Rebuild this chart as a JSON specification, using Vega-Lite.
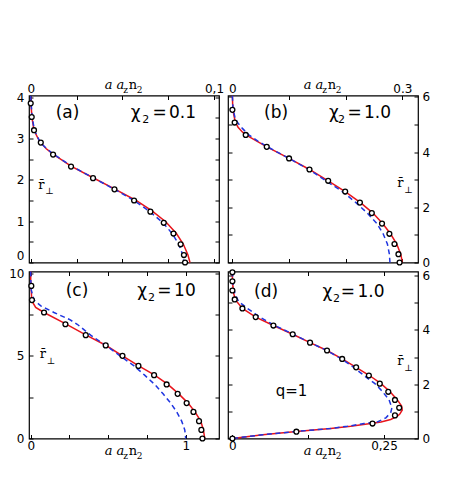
{
"$schema":"https://vega.github.io/schema/vega-lite/v6.json",
"background":"white",
"padding":{"left":8,"top":78.5,"right":5,"bottom":5},
"columns":2,"spacing":9,"bounds":"flush",
"config":{"view":{"stroke":"black","strokeWidth":1.2},
"axis":{"grid":false,"domain":false,"tickSize":-4,"tickColor":"black","tickWidth":1,"labelFont":"DejaVu Sans","labelFontSize":12,"labelColor":"black","labelFlush":false,"labelOverlap":false}},
"datasets":{
"c":[
{"p":"a","s":"red","i":0,"x":0,"y":4.03},{"p":"a","s":"red","i":1,"x":0.0002,"y":3.8},{"p":"a","s":"red","i":2,"x":0.0007,"y":3.5},{"p":"a","s":"red","i":3,"x":0.0018,"y":3.2},{"p":"a","s":"red","i":4,"x":0.004,"y":3.0},{"p":"a","s":"red","i":5,"x":0.0055,"y":2.9},{"p":"a","s":"red","i":6,"x":0.0085,"y":2.75},{"p":"a","s":"red","i":7,"x":0.0122,"y":2.62},{"p":"a","s":"red","i":8,"x":0.022,"y":2.33},{"p":"a","s":"red","i":9,"x":0.034,"y":2.05},{"p":"a","s":"red","i":10,"x":0.0457,"y":1.78},{"p":"a","s":"red","i":11,"x":0.0575,"y":1.5},{"p":"a","s":"red","i":12,"x":0.0662,"y":1.25},{"p":"a","s":"red","i":13,"x":0.0738,"y":0.98},{"p":"a","s":"red","i":14,"x":0.0795,"y":0.7},{"p":"a","s":"red","i":15,"x":0.0833,"y":0.44},{"p":"a","s":"red","i":16,"x":0.0858,"y":0.18},{"p":"a","s":"red","i":17,"x":0.0869,"y":0},
{"p":"a","s":"blue","i":0,"x":0,"y":4.03},{"p":"a","s":"blue","i":1,"x":0.0003,"y":3.8},{"p":"a","s":"blue","i":2,"x":0.0009,"y":3.5},{"p":"a","s":"blue","i":3,"x":0.002,"y":3.2},{"p":"a","s":"blue","i":4,"x":0.005,"y":2.92},{"p":"a","s":"blue","i":5,"x":0.0085,"y":2.76},{"p":"a","s":"blue","i":6,"x":0.0122,"y":2.63},{"p":"a","s":"blue","i":7,"x":0.022,"y":2.34},{"p":"a","s":"blue","i":8,"x":0.034,"y":2.05},{"p":"a","s":"blue","i":9,"x":0.0457,"y":1.77},{"p":"a","s":"blue","i":10,"x":0.0564,"y":1.5},{"p":"a","s":"blue","i":11,"x":0.065,"y":1.23},{"p":"a","s":"blue","i":12,"x":0.0722,"y":0.96},{"p":"a","s":"blue","i":13,"x":0.0772,"y":0.7},{"p":"a","s":"blue","i":14,"x":0.0808,"y":0.44},{"p":"a","s":"blue","i":15,"x":0.083,"y":0.18},{"p":"a","s":"blue","i":16,"x":0.0836,"y":0},
{"p":"a","s":"pt","x":0,"y":3.85},{"p":"a","s":"pt","x":0.00055,"y":3.52},{"p":"a","s":"pt","x":0.0018,"y":3.2},{"p":"a","s":"pt","x":0.0055,"y":2.9},{"p":"a","s":"pt","x":0.0122,"y":2.61},{"p":"a","s":"pt","x":0.022,"y":2.32},{"p":"a","s":"pt","x":0.034,"y":2.04},{"p":"a","s":"pt","x":0.0457,"y":1.77},{"p":"a","s":"pt","x":0.0564,"y":1.5},{"p":"a","s":"pt","x":0.0653,"y":1.23},{"p":"a","s":"pt","x":0.0726,"y":0.96},{"p":"a","s":"pt","x":0.0779,"y":0.7},{"p":"a","s":"pt","x":0.0818,"y":0.44},{"p":"a","s":"pt","x":0.0836,"y":0.18},{"p":"a","s":"pt","x":0.0842,"y":0},
{"p":"b","s":"red","i":0,"x":0,"y":6.04},{"p":"b","s":"red","i":1,"x":0.0005,"y":5.7},{"p":"b","s":"red","i":2,"x":0.002,"y":5.4},{"p":"b","s":"red","i":3,"x":0.005,"y":5.1},{"p":"b","s":"red","i":4,"x":0.01,"y":4.9},{"p":"b","s":"red","i":5,"x":0.018,"y":4.72},{"p":"b","s":"red","i":6,"x":0.03,"y":4.55},{"p":"b","s":"red","i":7,"x":0.06,"y":4.2},{"p":"b","s":"red","i":8,"x":0.1,"y":3.77},{"p":"b","s":"red","i":9,"x":0.136,"y":3.37},{"p":"b","s":"red","i":10,"x":0.169,"y":2.96},{"p":"b","s":"red","i":11,"x":0.199,"y":2.57},{"p":"b","s":"red","i":12,"x":0.226,"y":2.17},{"p":"b","s":"red","i":13,"x":0.248,"y":1.79},{"p":"b","s":"red","i":14,"x":0.265,"y":1.41},{"p":"b","s":"red","i":15,"x":0.279,"y":1.04},{"p":"b","s":"red","i":16,"x":0.29,"y":0.67},{"p":"b","s":"red","i":17,"x":0.297,"y":0.3},{"p":"b","s":"red","i":18,"x":0.3,"y":0},
{"p":"b","s":"blue","i":0,"x":0,"y":6.04},{"p":"b","s":"blue","i":1,"x":0.001,"y":5.6},{"p":"b","s":"blue","i":2,"x":0.004,"y":5.3},{"p":"b","s":"blue","i":3,"x":0.009,"y":5.07},{"p":"b","s":"blue","i":4,"x":0.018,"y":4.85},{"p":"b","s":"blue","i":5,"x":0.029,"y":4.62},{"p":"b","s":"blue","i":6,"x":0.045,"y":4.4},{"p":"b","s":"blue","i":7,"x":0.062,"y":4.19},{"p":"b","s":"blue","i":8,"x":0.1,"y":3.77},{"p":"b","s":"blue","i":9,"x":0.135,"y":3.37},{"p":"b","s":"blue","i":10,"x":0.165,"y":2.96},{"p":"b","s":"blue","i":11,"x":0.194,"y":2.57},{"p":"b","s":"blue","i":12,"x":0.218,"y":2.17},{"p":"b","s":"blue","i":13,"x":0.238,"y":1.79},{"p":"b","s":"blue","i":14,"x":0.255,"y":1.41},{"p":"b","s":"blue","i":15,"x":0.266,"y":1.04},{"p":"b","s":"blue","i":16,"x":0.2735,"y":0.67},{"p":"b","s":"blue","i":17,"x":0.277,"y":0.3},{"p":"b","s":"blue","i":18,"x":0.278,"y":0},
{"p":"b","s":"pt","x":0,"y":5.53},{"p":"b","s":"pt","x":0.004,"y":5.07},{"p":"b","s":"pt","x":0.0235,"y":4.62},{"p":"b","s":"pt","x":0.0606,"y":4.19},{"p":"b","s":"pt","x":0.1,"y":3.77},{"p":"b","s":"pt","x":0.136,"y":3.37},{"p":"b","s":"pt","x":0.169,"y":2.96},{"p":"b","s":"pt","x":0.199,"y":2.57},{"p":"b","s":"pt","x":0.225,"y":2.17},{"p":"b","s":"pt","x":0.246,"y":1.79},{"p":"b","s":"pt","x":0.264,"y":1.41},{"p":"b","s":"pt","x":0.277,"y":1.04},{"p":"b","s":"pt","x":0.286,"y":0.67},{"p":"b","s":"pt","x":0.293,"y":0.3},{"p":"b","s":"pt","x":0.295,"y":0},
{"p":"c","s":"red","i":0,"x":0,"y":10.1},{"p":"c","s":"red","i":1,"x":0,"y":9.6},{"p":"c","s":"red","i":2,"x":0.002,"y":9.2},{"p":"c","s":"red","i":3,"x":0.006,"y":8.5},{"p":"c","s":"red","i":4,"x":0.015,"y":8.2},{"p":"c","s":"red","i":5,"x":0.032,"y":7.93},{"p":"c","s":"red","i":6,"x":0.086,"y":7.62},{"p":"c","s":"red","i":7,"x":0.22,"y":6.96},{"p":"c","s":"red","i":8,"x":0.355,"y":6.27},{"p":"c","s":"red","i":9,"x":0.484,"y":5.64},{"p":"c","s":"red","i":10,"x":0.592,"y":5.0},{"p":"c","s":"red","i":11,"x":0.697,"y":4.39},{"p":"c","s":"red","i":12,"x":0.8,"y":3.83},{"p":"c","s":"red","i":13,"x":0.885,"y":3.27},{"p":"c","s":"red","i":14,"x":0.955,"y":2.7},{"p":"c","s":"red","i":15,"x":1.015,"y":2.14},{"p":"c","s":"red","i":16,"x":1.06,"y":1.61},{"p":"c","s":"red","i":17,"x":1.097,"y":1.05},{"p":"c","s":"red","i":18,"x":1.114,"y":0.52},{"p":"c","s":"red","i":19,"x":1.123,"y":0},
{"p":"c","s":"blue","i":0,"x":0,"y":10.1},{"p":"c","s":"blue","i":1,"x":0.001,"y":9.5},{"p":"c","s":"blue","i":2,"x":0.003,"y":9.0},{"p":"c","s":"blue","i":3,"x":0.021,"y":8.38},{"p":"c","s":"blue","i":4,"x":0.065,"y":8.02},{"p":"c","s":"blue","i":5,"x":0.129,"y":7.72},{"p":"c","s":"blue","i":6,"x":0.15,"y":7.62},{"p":"c","s":"blue","i":7,"x":0.25,"y":7.2},{"p":"c","s":"blue","i":8,"x":0.3,"y":6.91},{"p":"c","s":"blue","i":9,"x":0.387,"y":6.25},{"p":"c","s":"blue","i":10,"x":0.484,"y":5.63},{"p":"c","s":"blue","i":11,"x":0.576,"y":5.0},{"p":"c","s":"blue","i":12,"x":0.667,"y":4.39},{"p":"c","s":"blue","i":13,"x":0.735,"y":3.83},{"p":"c","s":"blue","i":14,"x":0.8,"y":3.27},{"p":"c","s":"blue","i":15,"x":0.854,"y":2.7},{"p":"c","s":"blue","i":16,"x":0.903,"y":2.14},{"p":"c","s":"blue","i":17,"x":0.942,"y":1.61},{"p":"c","s":"blue","i":18,"x":0.974,"y":1.05},{"p":"c","s":"blue","i":19,"x":0.994,"y":0.52},{"p":"c","s":"blue","i":20,"x":1.0,"y":0},
{"p":"c","s":"pt","x":0.004,"y":9.23},{"p":"c","s":"pt","x":0.008,"y":8.37},{"p":"c","s":"pt","x":0.086,"y":7.62},{"p":"c","s":"pt","x":0.224,"y":6.91},{"p":"c","s":"pt","x":0.355,"y":6.25},{"p":"c","s":"pt","x":0.484,"y":5.63},{"p":"c","s":"pt","x":0.592,"y":5.0},{"p":"c","s":"pt","x":0.695,"y":4.39},{"p":"c","s":"pt","x":0.796,"y":3.83},{"p":"c","s":"pt","x":0.877,"y":3.27},{"p":"c","s":"pt","x":0.948,"y":2.7},{"p":"c","s":"pt","x":1.006,"y":2.14},{"p":"c","s":"pt","x":1.05,"y":1.61},{"p":"c","s":"pt","x":1.086,"y":1.05},{"p":"c","s":"pt","x":1.101,"y":0.52},{"p":"c","s":"pt","x":1.108,"y":0},
{"p":"d","s":"red","i":0,"x":0,"y":6.15},{"p":"d","s":"red","i":1,"x":0,"y":5.9},{"p":"d","s":"red","i":2,"x":0.0008,"y":5.6},{"p":"d","s":"red","i":3,"x":0.002,"y":5.35},{"p":"d","s":"red","i":4,"x":0.005,"y":5.1},{"p":"d","s":"red","i":5,"x":0.0165,"y":4.79},{"p":"d","s":"red","i":6,"x":0.0384,"y":4.47},{"p":"d","s":"red","i":7,"x":0.0676,"y":4.16},{"p":"d","s":"red","i":8,"x":0.0994,"y":3.84},{"p":"d","s":"red","i":9,"x":0.128,"y":3.53},{"p":"d","s":"red","i":10,"x":0.156,"y":3.24},{"p":"d","s":"red","i":11,"x":0.181,"y":2.93},{"p":"d","s":"red","i":12,"x":0.204,"y":2.62},{"p":"d","s":"red","i":13,"x":0.226,"y":2.32},{"p":"d","s":"red","i":14,"x":0.245,"y":2.02},{"p":"d","s":"red","i":15,"x":0.26,"y":1.72},{"p":"d","s":"red","i":16,"x":0.272,"y":1.42},{"p":"d","s":"red","i":17,"x":0.279,"y":1.2},{"p":"d","s":"red","i":18,"x":0.28,"y":1.05},{"p":"d","s":"red","i":19,"x":0.276,"y":0.9},{"p":"d","s":"red","i":20,"x":0.272,"y":0.82},{"p":"d","s":"red","i":21,"x":0.261,"y":0.7},{"p":"d","s":"red","i":22,"x":0.245,"y":0.61},{"p":"d","s":"red","i":23,"x":0.231,"y":0.56},{"p":"d","s":"red","i":24,"x":0.195,"y":0.45},{"p":"d","s":"red","i":25,"x":0.162,"y":0.37},{"p":"d","s":"red","i":26,"x":0.1055,"y":0.26},{"p":"d","s":"red","i":27,"x":0.05,"y":0.14},{"p":"d","s":"red","i":28,"x":0,"y":0},
{"p":"d","s":"blue","i":0,"x":0,"y":6.15},{"p":"d","s":"blue","i":1,"x":0.001,"y":5.7},{"p":"d","s":"blue","i":2,"x":0.004,"y":5.35},{"p":"d","s":"blue","i":3,"x":0.01,"y":5.05},{"p":"d","s":"blue","i":4,"x":0.025,"y":4.79},{"p":"d","s":"blue","i":5,"x":0.045,"y":4.47},{"p":"d","s":"blue","i":6,"x":0.07,"y":4.16},{"p":"d","s":"blue","i":7,"x":0.1,"y":3.84},{"p":"d","s":"blue","i":8,"x":0.128,"y":3.53},{"p":"d","s":"blue","i":9,"x":0.156,"y":3.24},{"p":"d","s":"blue","i":10,"x":0.18,"y":2.93},{"p":"d","s":"blue","i":11,"x":0.2,"y":2.62},{"p":"d","s":"blue","i":12,"x":0.217,"y":2.32},{"p":"d","s":"blue","i":13,"x":0.235,"y":2.02},{"p":"d","s":"blue","i":14,"x":0.2445,"y":1.8},{"p":"d","s":"blue","i":15,"x":0.258,"y":1.44},{"p":"d","s":"blue","i":16,"x":0.263,"y":1.13},{"p":"d","s":"blue","i":17,"x":0.261,"y":0.95},{"p":"d","s":"blue","i":18,"x":0.253,"y":0.76},{"p":"d","s":"blue","i":19,"x":0.239,"y":0.61},{"p":"d","s":"blue","i":20,"x":0.217,"y":0.55},{"p":"d","s":"blue","i":21,"x":0.19,"y":0.45},{"p":"d","s":"blue","i":22,"x":0.162,"y":0.37},{"p":"d","s":"blue","i":23,"x":0.1055,"y":0.26},{"p":"d","s":"blue","i":24,"x":0.05,"y":0.14},{"p":"d","s":"blue","i":25,"x":0,"y":0},
{"p":"d","s":"pt","x":0,"y":6.12},{"p":"d","s":"pt","x":0,"y":5.79},{"p":"d","s":"pt","x":0,"y":5.45},{"p":"d","s":"pt","x":0.0038,"y":5.12},{"p":"d","s":"pt","x":0.0165,"y":4.79},{"p":"d","s":"pt","x":0.0384,"y":4.47},{"p":"d","s":"pt","x":0.0676,"y":4.16},{"p":"d","s":"pt","x":0.0994,"y":3.84},{"p":"d","s":"pt","x":0.128,"y":3.53},{"p":"d","s":"pt","x":0.156,"y":3.24},{"p":"d","s":"pt","x":0.181,"y":2.93},{"p":"d","s":"pt","x":0.204,"y":2.62},{"p":"d","s":"pt","x":0.225,"y":2.32},{"p":"d","s":"pt","x":0.243,"y":2.02},{"p":"d","s":"pt","x":0.257,"y":1.72},{"p":"d","s":"pt","x":0.268,"y":1.42},{"p":"d","s":"pt","x":0.275,"y":1.13},{"p":"d","s":"pt","x":0.268,"y":0.85},{"p":"d","s":"pt","x":0.231,"y":0.55},{"p":"d","s":"pt","x":0.1055,"y":0.25},{"p":"d","s":"pt","x":0,"y":0}
],
"t":[
{"p":"a","k":"big","t":"(a)","x":0.01364,"y":3.49},{"p":"a","k":"big","t":"χ","x":0.05456,"y":3.49},{"p":"a","k":"big","t":"=","x":0.0664,"y":3.49},{"p":"a","k":"big","t":"0.1","x":0.0754,"y":3.49},{"p":"a","k":"sub","t":"2","x":0.0609,"y":3.37},
{"p":"a","k":"ser","t":"r\u0304","x":0.0041,"y":1.79},{"p":"a","k":"sers","t":"⊥","x":0.0079,"y":1.65},
{"p":"a","k":"seri","t":"a a","x":0.04037,"y":4.193},{"p":"a","k":"sers","t":"z","x":0.05046,"y":4.096},{"p":"a","k":"ser","t":"n","x":0.05346,"y":4.193},{"p":"a","k":"sers","t":"2","x":0.05783,"y":4.096},
{"p":"b","k":"big","t":"(b)","x":0.0558,"y":5.228},{"p":"b","k":"big","t":"χ","x":0.1705,"y":5.228},{"p":"b","k":"big","t":"=","x":0.2029,"y":5.228},{"p":"b","k":"big","t":"1.0","x":0.2322,"y":5.228},{"p":"b","k":"sub","t":"2","x":0.1863,"y":5.047},
{"p":"b","k":"ser","t":"r\u0304","x":0.2908,"y":2.72},{"p":"b","k":"sers","t":"⊥","x":0.3032,"y":2.51},
{"p":"b","k":"seri","t":"a a","x":0.1258,"y":6.279},{"p":"b","k":"sers","t":"z","x":0.1585,"y":6.134},{"p":"b","k":"ser","t":"n","x":0.1682,"y":6.279},{"p":"b","k":"sers","t":"2","x":0.1823,"y":6.134},
{"p":"c","k":"big","t":"(c)","x":0.2258,"y":8.61},{"p":"c","k":"big","t":"χ","x":0.688,"y":8.61},{"p":"c","k":"big","t":"=","x":0.817,"y":8.61},{"p":"c","k":"big","t":"10","x":0.925,"y":8.61},{"p":"c","k":"sub","t":"2","x":0.757,"y":8.31},
{"p":"c","k":"ser","t":"r\u0304","x":0.058,"y":4.84},{"p":"c","k":"sers","t":"⊥","x":0.103,"y":4.49},
{"p":"c","k":"seri","t":"a a","x":0.4774,"y":-1.01},{"p":"c","k":"sers","t":"z","x":0.5968,"y":-1.25},{"p":"c","k":"ser","t":"n","x":0.6323,"y":-1.01},{"p":"c","k":"sers","t":"2","x":0.6839,"y":-1.25},
{"p":"d","k":"big","t":"(d)","x":0.0356,"y":5.226},{"p":"d","k":"big","t":"χ","x":0.1484,"y":5.226},{"p":"d","k":"big","t":"=","x":0.1786,"y":5.226},{"p":"d","k":"big","t":"1.0","x":0.2061,"y":5.226},{"p":"d","k":"sub","t":"2","x":0.1659,"y":5.042},
{"p":"d","k":"q","t":"q=1","x":0.0714,"y":1.58},
{"p":"d","k":"ser","t":"r\u0304","x":0.2718,"y":2.72},{"p":"d","k":"sers","t":"⊥","x":0.2833,"y":2.5},
{"p":"d","k":"seri","t":"a a","x":0.1176,"y":-0.626},{"p":"d","k":"sers","t":"z","x":0.1481,"y":-0.773},{"p":"d","k":"ser","t":"n","x":0.1572,"y":-0.626},{"p":"d","k":"sers","t":"2","x":0.1704,"y":-0.773}
]},
"concat":[
{"width":190,"height":167,"resolve":{"axis":{"x":"independent","y":"independent"}},
"encoding":{"x":{"field":"x","type":"quantitative","scale":{"domain":[-0.00093,0.10273],"nice":false,"zero":false},"axis":null},"y":{"field":"y","type":"quantitative","scale":{"domain":[0,4.04],"nice":false,"zero":false},"axis":null}},
"layer":[
{"data":{"name":"c"},"transform":[{"filter":"datum.p=='a' && datum.s=='red'"}],"mark":{"type":"line","color":"#e8141b","strokeWidth":1.5},
"encoding":{"x":{"field":"x","type":"quantitative","scale":{"domain":[-0.00093,0.10273],"nice":false,"zero":false},"axis":{"orient":"top","title":null,"values":[0,0.025,0.05,0.075,0.1],"labelExpr":"datum.value==0?'0':(datum.value==0.1?'0,1':'')","labelPadding":4}},
"y":{"field":"y","type":"quantitative","scale":{"domain":[0,4.04],"nice":false,"zero":false},"axis":{"orient":"left","title":null,"values":[0,0.5,1,1.5,2,2.5,3,3.5,4],"labelExpr":"datum.value%1==0?format(datum.value,'d'):''","labelPadding":9,"labelFlush":true}},
"order":{"field":"i","type":"quantitative"}}},
{"data":{"name":"c"},"transform":[{"filter":"datum.p=='a' && datum.s=='blue'"}],"mark":{"type":"line","color":"#1f35e0","strokeWidth":1.5,"strokeDash":[5,3.5]},
"encoding":{"x":{"field":"x","type":"quantitative","scale":{"domain":[-0.00093,0.10273],"nice":false,"zero":false},"axis":{"orient":"bottom","title":null,"values":[0,0.025,0.05,0.075,0.1],"labels":false}},
"y":{"field":"y","type":"quantitative","scale":{"domain":[0,4.04],"nice":false,"zero":false},"axis":{"orient":"right","title":null,"values":[0,0.5,1,1.5,2,2.5,3,3.5,4],"labels":false}},
"order":{"field":"i","type":"quantitative"}}},
{"data":{"name":"c"},"transform":[{"filter":"datum.p=='a' && datum.s=='pt'"}],"mark":{"type":"point","shape":"circle","size":24,"filled":false,"fill":"white","stroke":"black","strokeWidth":1.3,"opacity":1}},
{"data":{"name":"t"},"transform":[{"filter":"datum.p=='a' && datum.k=='big'"}],"mark":{"type":"text","font":"DejaVu Sans","fontSize":17,"align":"left","baseline":"alphabetic","color":"black"},"encoding":{"text":{"field":"t"}}},
{"data":{"name":"t"},"transform":[{"filter":"datum.p=='a' && datum.k=='sub'"}],"mark":{"type":"text","font":"DejaVu Sans","fontSize":11,"align":"left","baseline":"alphabetic","color":"black"},"encoding":{"text":{"field":"t"}}},
{"data":{"name":"t"},"transform":[{"filter":"datum.p=='a' && datum.k=='ser'"}],"mark":{"type":"text","font":"DejaVu Serif","fontSize":13,"align":"left","baseline":"alphabetic","color":"black"},"encoding":{"text":{"field":"t"}}},
{"data":{"name":"t"},"transform":[{"filter":"datum.p=='a' && datum.k=='seri'"}],"mark":{"type":"text","font":"DejaVu Serif","fontStyle":"italic","fontSize":13,"align":"left","baseline":"alphabetic","color":"black"},"encoding":{"text":{"field":"t"}}},
{"data":{"name":"t"},"transform":[{"filter":"datum.p=='a' && datum.k=='sers'"}],"mark":{"type":"text","font":"DejaVu Serif","fontSize":9,"align":"left","baseline":"alphabetic","color":"black"},"encoding":{"text":{"field":"t"}}}
]},
{"width":190,"height":167,"resolve":{"axis":{"x":"independent","y":"independent"}},
"encoding":{"x":{"field":"x","type":"quantitative","scale":{"domain":[-0.00776,0.3275],"nice":false,"zero":false},"axis":null},"y":{"field":"y","type":"quantitative","scale":{"domain":[0,6.05],"nice":false,"zero":false},"axis":null}},
"layer":[
{"data":{"name":"c"},"transform":[{"filter":"datum.p=='b' && datum.s=='red'"}],"mark":{"type":"line","color":"#e8141b","strokeWidth":1.5},
"encoding":{"x":{"field":"x","type":"quantitative","scale":{"domain":[-0.00776,0.3275],"nice":false,"zero":false},"axis":{"orient":"top","title":null,"values":[0,0.1,0.2,0.3],"labelExpr":"datum.value==0?'0':(datum.value==0.3?'0.3':'')","labelPadding":4}},
"y":{"field":"y","type":"quantitative","scale":{"domain":[0,6.05],"nice":false,"zero":false},"axis":{"orient":"right","title":null,"values":[0,1,2,3,4,5,6],"labelExpr":"datum.value%2==0?format(datum.value,'d'):''","labelPadding":8}},
"order":{"field":"i","type":"quantitative"}}},
{"data":{"name":"c"},"transform":[{"filter":"datum.p=='b' && datum.s=='blue'"}],"mark":{"type":"line","color":"#1f35e0","strokeWidth":1.5,"strokeDash":[5,3.5]},
"encoding":{"x":{"field":"x","type":"quantitative","scale":{"domain":[-0.00776,0.3275],"nice":false,"zero":false},"axis":{"orient":"bottom","title":null,"values":[0,0.1,0.2,0.3],"labels":false}},
"y":{"field":"y","type":"quantitative","scale":{"domain":[0,6.05],"nice":false,"zero":false},"axis":{"orient":"left","title":null,"values":[0,1,2,3,4,5,6],"labels":false}},
"order":{"field":"i","type":"quantitative"}}},
{"data":{"name":"c"},"transform":[{"filter":"datum.p=='b' && datum.s=='pt'"}],"mark":{"type":"point","shape":"circle","size":24,"filled":false,"fill":"white","stroke":"black","strokeWidth":1.3,"opacity":1}},
{"data":{"name":"t"},"transform":[{"filter":"datum.p=='b' && datum.k=='big'"}],"mark":{"type":"text","font":"DejaVu Sans","fontSize":17,"align":"left","baseline":"alphabetic","color":"black"},"encoding":{"text":{"field":"t"}}},
{"data":{"name":"t"},"transform":[{"filter":"datum.p=='b' && datum.k=='sub'"}],"mark":{"type":"text","font":"DejaVu Sans","fontSize":11,"align":"left","baseline":"alphabetic","color":"black"},"encoding":{"text":{"field":"t"}}},
{"data":{"name":"t"},"transform":[{"filter":"datum.p=='b' && datum.k=='ser'"}],"mark":{"type":"text","font":"DejaVu Serif","fontSize":13,"align":"left","baseline":"alphabetic","color":"black"},"encoding":{"text":{"field":"t"}}},
{"data":{"name":"t"},"transform":[{"filter":"datum.p=='b' && datum.k=='seri'"}],"mark":{"type":"text","font":"DejaVu Serif","fontStyle":"italic","fontSize":13,"align":"left","baseline":"alphabetic","color":"black"},"encoding":{"text":{"field":"t"}}},
{"data":{"name":"t"},"transform":[{"filter":"datum.p=='b' && datum.k=='sers'"}],"mark":{"type":"text","font":"DejaVu Serif","fontSize":9,"align":"left","baseline":"alphabetic","color":"black"},"encoding":{"text":{"field":"t"}}}
]},
{"width":190,"height":167,"resolve":{"axis":{"x":"independent","y":"independent"}},
"encoding":{"x":{"field":"x","type":"quantitative","scale":{"domain":[-0.011,1.2148],"nice":false,"zero":false},"axis":null},"y":{"field":"y","type":"quantitative","scale":{"domain":[0,10.1],"nice":false,"zero":false},"axis":null}},
"layer":[
{"data":{"name":"c"},"transform":[{"filter":"datum.p=='c' && datum.s=='red'"}],"mark":{"type":"line","color":"#e8141b","strokeWidth":1.5},
"encoding":{"x":{"field":"x","type":"quantitative","scale":{"domain":[-0.011,1.2148],"nice":false,"zero":false},"axis":{"orient":"bottom","title":null,"values":[0,0.25,0.5,0.75,1],"labelExpr":"datum.value==0?'0':(datum.value==1?'1':'')","labelPadding":6}},
"y":{"field":"y","type":"quantitative","scale":{"domain":[0,10.1],"nice":false,"zero":false},"axis":{"orient":"left","title":null,"values":[0,2.5,5,7.5,10],"labelExpr":"datum.value%5==0?format(datum.value,'d'):''","labelPadding":9}},
"order":{"field":"i","type":"quantitative"}}},
{"data":{"name":"c"},"transform":[{"filter":"datum.p=='c' && datum.s=='blue'"}],"mark":{"type":"line","color":"#1f35e0","strokeWidth":1.5,"strokeDash":[5,3.5]},
"encoding":{"x":{"field":"x","type":"quantitative","scale":{"domain":[-0.011,1.2148],"nice":false,"zero":false},"axis":{"orient":"top","title":null,"values":[0,0.25,0.5,0.75,1],"labels":false}},
"y":{"field":"y","type":"quantitative","scale":{"domain":[0,10.1],"nice":false,"zero":false},"axis":{"orient":"right","title":null,"values":[0,2.5,5,7.5,10],"labels":false}},
"order":{"field":"i","type":"quantitative"}}},
{"data":{"name":"c"},"transform":[{"filter":"datum.p=='c' && datum.s=='pt'"}],"mark":{"type":"point","shape":"circle","size":24,"filled":false,"fill":"white","stroke":"black","strokeWidth":1.3,"opacity":1}},
{"data":{"name":"t"},"transform":[{"filter":"datum.p=='c' && datum.k=='big'"}],"mark":{"type":"text","font":"DejaVu Sans","fontSize":17,"align":"left","baseline":"alphabetic","color":"black"},"encoding":{"text":{"field":"t"}}},
{"data":{"name":"t"},"transform":[{"filter":"datum.p=='c' && datum.k=='sub'"}],"mark":{"type":"text","font":"DejaVu Sans","fontSize":11,"align":"left","baseline":"alphabetic","color":"black"},"encoding":{"text":{"field":"t"}}},
{"data":{"name":"t"},"transform":[{"filter":"datum.p=='c' && datum.k=='ser'"}],"mark":{"type":"text","font":"DejaVu Serif","fontSize":13,"align":"left","baseline":"alphabetic","color":"black"},"encoding":{"text":{"field":"t"}}},
{"data":{"name":"t"},"transform":[{"filter":"datum.p=='c' && datum.k=='seri'"}],"mark":{"type":"text","font":"DejaVu Serif","fontStyle":"italic","fontSize":13,"align":"left","baseline":"alphabetic","color":"black"},"encoding":{"text":{"field":"t"}}},
{"data":{"name":"t"},"transform":[{"filter":"datum.p=='c' && datum.k=='sers'"}],"mark":{"type":"text","font":"DejaVu Serif","fontSize":9,"align":"left","baseline":"alphabetic","color":"black"},"encoding":{"text":{"field":"t"}}}
]},
{"width":190,"height":167,"resolve":{"axis":{"x":"independent","y":"independent"}},
"encoding":{"x":{"field":"x","type":"quantitative","scale":{"domain":[-0.00726,0.306],"nice":false,"zero":false},"axis":null},"y":{"field":"y","type":"quantitative","scale":{"domain":[0,6.15],"nice":false,"zero":false},"axis":null}},
"layer":[
{"data":{"name":"c"},"transform":[{"filter":"datum.p=='d' && datum.s=='red'"}],"mark":{"type":"line","color":"#e8141b","strokeWidth":1.5},
"encoding":{"x":{"field":"x","type":"quantitative","scale":{"domain":[-0.00726,0.306],"nice":false,"zero":false},"axis":{"orient":"bottom","title":null,"values":[0,0.125,0.25],"labelExpr":"datum.value==0?'0':(datum.value==0.25?'0,25':'')","labelPadding":6}},
"y":{"field":"y","type":"quantitative","scale":{"domain":[0,6.15],"nice":false,"zero":false},"axis":{"orient":"right","title":null,"values":[0,1,2,3,4,5,6],"labelExpr":"datum.value%2==0?format(datum.value,'d'):''","labelPadding":8}},
"order":{"field":"i","type":"quantitative"}}},
{"data":{"name":"c"},"transform":[{"filter":"datum.p=='d' && datum.s=='blue'"}],"mark":{"type":"line","color":"#1f35e0","strokeWidth":1.5,"strokeDash":[5,3.5]},
"encoding":{"x":{"field":"x","type":"quantitative","scale":{"domain":[-0.00726,0.306],"nice":false,"zero":false},"axis":{"orient":"top","title":null,"values":[0,0.125,0.25],"labels":false}},
"y":{"field":"y","type":"quantitative","scale":{"domain":[0,6.15],"nice":false,"zero":false},"axis":{"orient":"left","title":null,"values":[0,1,2,3,4,5,6],"labels":false}},
"order":{"field":"i","type":"quantitative"}}},
{"data":{"name":"c"},"transform":[{"filter":"datum.p=='d' && datum.s=='pt'"}],"mark":{"type":"point","shape":"circle","size":24,"filled":false,"fill":"white","stroke":"black","strokeWidth":1.3,"opacity":1}},
{"data":{"name":"t"},"transform":[{"filter":"datum.p=='d' && datum.k=='big'"}],"mark":{"type":"text","font":"DejaVu Sans","fontSize":17,"align":"left","baseline":"alphabetic","color":"black"},"encoding":{"text":{"field":"t"}}},
{"data":{"name":"t"},"transform":[{"filter":"datum.p=='d' && datum.k=='q'"}],"mark":{"type":"text","font":"DejaVu Sans","fontSize":15,"align":"left","baseline":"alphabetic","color":"black"},"encoding":{"text":{"field":"t"}}},
{"data":{"name":"t"},"transform":[{"filter":"datum.p=='d' && datum.k=='sub'"}],"mark":{"type":"text","font":"DejaVu Sans","fontSize":11,"align":"left","baseline":"alphabetic","color":"black"},"encoding":{"text":{"field":"t"}}},
{"data":{"name":"t"},"transform":[{"filter":"datum.p=='d' && datum.k=='ser'"}],"mark":{"type":"text","font":"DejaVu Serif","fontSize":13,"align":"left","baseline":"alphabetic","color":"black"},"encoding":{"text":{"field":"t"}}},
{"data":{"name":"t"},"transform":[{"filter":"datum.p=='d' && datum.k=='seri'"}],"mark":{"type":"text","font":"DejaVu Serif","fontStyle":"italic","fontSize":13,"align":"left","baseline":"alphabetic","color":"black"},"encoding":{"text":{"field":"t"}}},
{"data":{"name":"t"},"transform":[{"filter":"datum.p=='d' && datum.k=='sers'"}],"mark":{"type":"text","font":"DejaVu Serif","fontSize":9,"align":"left","baseline":"alphabetic","color":"black"},"encoding":{"text":{"field":"t"}}}
]}
]
}
